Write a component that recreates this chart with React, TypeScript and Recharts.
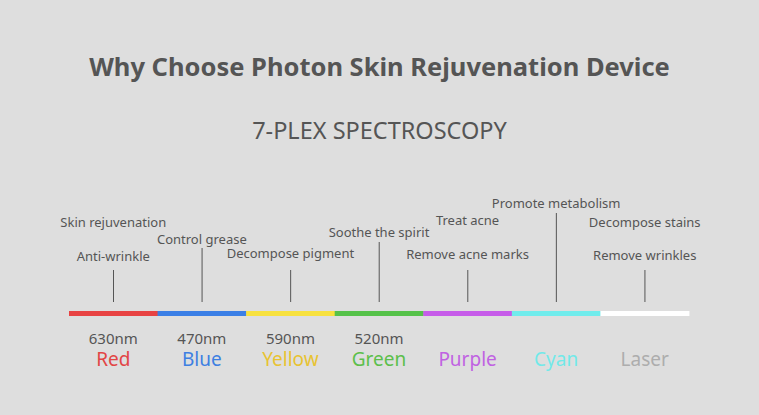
import React from "react";
import { ComposedChart, Bar, Line, XAxis, YAxis, Cell, LabelList } from "recharts";

const bands = ["Red", "Blue", "Yellow", "Green", "Purple", "Cyan", "Laser"];
const wavelengths = ["630nm", "470nm", "590nm", "520nm", "", "", ""];
const stripeColors = ["#e84343", "#3b7fe6", "#f7e13f", "#56c24a", "#c65ce9", "#70ecec", "#ffffff"];
const nameColors = ["#e24545", "#3d7fe2", "#e8c332", "#5cbf4b", "#c062e2", "#72e9e9", "#adadad"];
const lineTops = [46, 68, 46, 74, 46, 103, 46];
const lowerTexts = ["Anti-wrinkle", "Control grease", "Decompose pigment", "Soothe the spirit", "Remove acne marks", "Promote metabolism", "Remove wrinkles"];
const lowerLevels = [60, 77, 63, 84, 62, 113, 61];
const upperTexts = ["Skin rejuvenation", "", "", "", "Treat acne", "", "Decompose stains"];
const upperLevels = [94, null, null, null, 96, null, 94];

const data = bands.map((name, i) => ({
  name,
  wave: wavelengths[i],
  stripe: [0, 5],
  pointer: [14, lineTops[i]],
  lower: lowerLevels[i],
  lowerText: lowerTexts[i],
  upper: upperLevels[i],
  upperText: upperTexts[i],
}));

const FONT = "'Noto Sans', sans-serif";
const TEXT = "#555555";

const textLabel = (props: any) => {
  const { x, y, value } = props;
  if (!value || y == null || isNaN(y)) return null;
  return (
    <text x={x} y={y} textAnchor="middle" dominantBaseline="central" fontSize={13} fill={TEXT} fontFamily={FONT}>
      {value}
    </text>
  );
};

const BandTick = (props: any) => {
  const { x, y, index } = props;
  return (
    <g>
      <text x={x} y={y + 21.5} textAnchor="middle" dominantBaseline="central" fontSize={15} fill={TEXT} fontFamily={FONT}>
        {wavelengths[index]}
      </text>
      <text x={x} y={y + 43} textAnchor="middle" dominantBaseline="central" fontSize={19} fill={nameColors[index]} fontFamily={FONT}>
        {bands[index]}
      </text>
    </g>
  );
};

export default function App() {
  return (
    <div style={{ position: "relative", width: 759, height: 415, background: "#dedede", fontFamily: FONT }}>
      <style>{`body{margin:0}`}</style>
      <div style={{ position: "absolute", top: 49, width: 759, textAlign: "center", fontSize: 25.5, fontWeight: 700, color: TEXT }}>
        Why Choose Photon Skin Rejuvenation Device
      </div>
      <div style={{ position: "absolute", top: 114, width: 759, textAlign: "center", fontSize: 23.5, color: TEXT }}>
        7-PLEX SPECTROSCOPY
      </div>
      <div style={{ position: "absolute", top: 0, left: 0 }}>
        <ComposedChart
          width={759}
          height={415}
          data={data}
          margin={{ top: 190, right: 70, bottom: 0, left: 69 }}
          barCategoryGap={0}
          barGap={0}
        >
          <XAxis xAxisId="band" dataKey="name" axisLine={false} tickLine={false} tickSize={0} tickMargin={0} tick={<BandTick />} interval={0} height={99} />
          <XAxis xAxisId="ptr" dataKey="name" hide />
          <YAxis domain={[0, 126]} hide />
          <Bar xAxisId="band" dataKey="stripe" isAnimationActive={false}>
            {data.map((d, i) => (
              <Cell key={d.name} fill={stripeColors[i]} />
            ))}
          </Bar>
          <Bar xAxisId="ptr" dataKey="pointer" barSize={1} fill="#555555" isAnimationActive={false} />
          <Line xAxisId="band" dataKey="lower" stroke="none" dot={false} activeDot={false} isAnimationActive={false}>
            <LabelList dataKey="lowerText" content={textLabel} />
          </Line>
          <Line xAxisId="band" dataKey="upper" stroke="none" dot={false} activeDot={false} isAnimationActive={false}>
            <LabelList dataKey="upperText" content={textLabel} />
          </Line>
        </ComposedChart>
      </div>
    </div>
  );
}
